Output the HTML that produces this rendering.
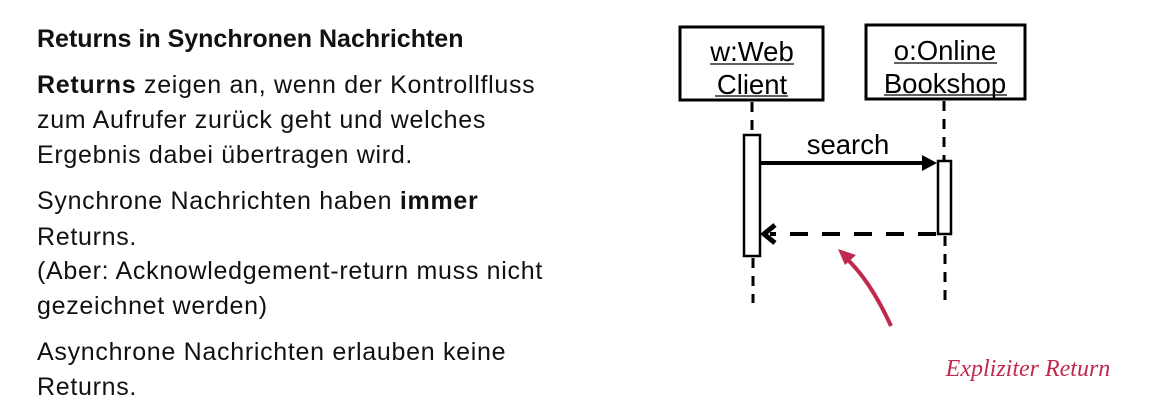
<!DOCTYPE html>
<html><head><meta charset="utf-8"><style>
body{margin:0;width:1154px;height:409px;background:#fff;position:relative;overflow:hidden;font-family:"Liberation Sans","DejaVu Sans",sans-serif;color:#111}
.t{position:absolute;left:37px;font-size:25px;white-space:nowrap;line-height:35px;letter-spacing:0.7px}
b{font-weight:bold}
</style></head><body>
<div class="t" style="top:22px;letter-spacing:0"><b>Returns in Synchronen Nachrichten</b></div>
<div class="t" style="top:68px"><b>Returns</b> zeigen an, wenn der Kontrollfluss<br>zum Aufrufer zurück geht und welches<br>Ergebnis dabei übertragen wird.</div>
<div class="t" style="top:183px;line-height:36px">Synchrone Nachrichten haben <b>immer</b><br>Returns.</div>
<div class="t" style="top:254px;line-height:35px">(Aber: Acknowledgement-return muss nicht<br>gezeichnet werden)</div>
<div class="t" style="top:335px">Asynchrone Nachrichten erlauben keine<br>Returns.</div>
<svg width="1154" height="409" style="position:absolute;left:0;top:0">
<rect x="680" y="27" width="143" height="73" fill="#fff" stroke="#000" stroke-width="3"/>
<rect x="866" y="25" width="159" height="74" fill="#fff" stroke="#000" stroke-width="3"/>
<g font-family="Liberation Sans, sans-serif" font-size="27.5" text-anchor="middle" fill="#000">
<text x="752" y="61">w:Web</text><text x="752" y="94">Client</text>
<text x="945" y="60">o:Online</text><text x="945" y="93">Bookshop</text>
<text x="848" y="154">search</text>
</g>
<g stroke="#000" stroke-width="1.3"><line x1="710" y1="64" x2="794" y2="64"/><line x1="715" y1="96" x2="788" y2="96"/><line x1="894" y1="63" x2="997" y2="63"/><line x1="884" y1="95" x2="1007" y2="95"/></g>
<g stroke="#000" stroke-width="3" stroke-dasharray="10,8" fill="none">
<line x1="752" y1="102" x2="752" y2="134"/><line x1="753" y1="258" x2="753" y2="303"/>
<line x1="944" y1="101" x2="944" y2="160"/><line x1="945" y1="236" x2="945" y2="303"/>
<line x1="936" y1="234" x2="770" y2="234" stroke-dasharray="18,14" stroke-width="4"/>
</g>
<rect x="744" y="135" width="16" height="121" fill="#fff" stroke="#000" stroke-width="2.5"/>
<rect x="938" y="161" width="13" height="73" fill="#fff" stroke="#000" stroke-width="2.5"/>
<line x1="761" y1="163" x2="925" y2="163" stroke="#000" stroke-width="4"/>
<polygon points="937,163 922,155 922,171" fill="#000"/>
<polyline points="775,225 764,234 775,243" fill="none" stroke="#000" stroke-width="5"/>
<path d="M891,326 Q870,280 845,257" fill="none" stroke="#c0294f" stroke-width="4"/>
<polygon points="838,249 856,255 845,265" fill="#c0294f"/>
<text x="1028" y="376" text-anchor="middle" font-family="Liberation Serif, serif" font-style="italic" font-size="24" fill="#c0294f">Expliziter Return</text>
</svg>
</body></html>
